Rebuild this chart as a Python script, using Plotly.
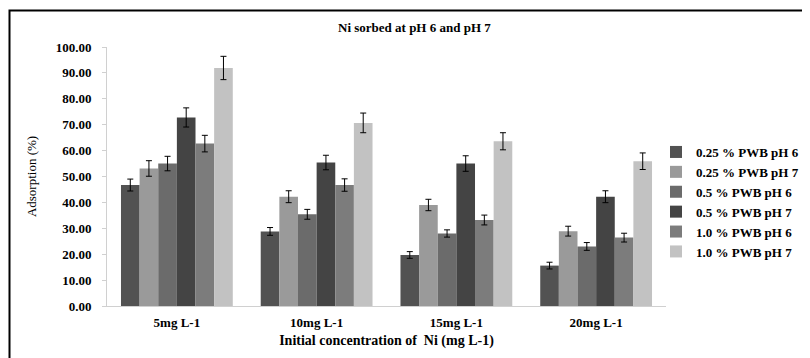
import plotly.graph_objects as go

categories = ["5mg L-1", "10mg L-1", "15mg L-1", "20mg L-1"]
series_names = ["0.25 % PWB pH 6", "0.25 % PWB pH 7", "0.5 % PWB pH 6",
                "0.5 % PWB pH 7", "1.0 % PWB pH 6", "1.0 % PWB pH 7"]
values = [
    [46.7, 28.8, 19.7, 15.6],
    [53.1, 42.2, 39.0, 28.9],
    [55.0, 35.4, 28.0, 23.0],
    [72.8, 55.4, 55.0, 42.2],
    [62.7, 46.7, 33.2, 26.4],
    [91.9, 70.7, 63.6, 55.9],
]
errors = [
    [2.3, 1.5, 1.3, 1.3],
    [3.0, 2.3, 2.2, 1.9],
    [2.8, 1.9, 1.4, 1.5],
    [3.7, 2.8, 3.0, 2.3],
    [3.2, 2.4, 1.9, 1.7],
    [4.5, 3.8, 3.3, 3.2],
]
colors = ["#525252", "#9a9a9a", "#6b6b6b", "#444444", "#7c7c7c", "#c2c2c2"]
y_ticks = [0, 10, 20, 30, 40, 50, 60, 70, 80, 90, 100]

FONT = "Liberation Serif"

fig = go.Figure()
for name, vals, errs, col in zip(series_names, values, errors, colors):
    fig.add_trace(go.Bar(
        x=categories, y=vals, name=name,
        marker=dict(color=col, line=dict(width=0)),
        error_y=dict(type="data", array=errs, visible=True,
                     color="black", thickness=1, width=3),
    ))

# page body has an 8px margin: work in window pixels and compensate
OFF = 8
WIN_W, WIN_H = 810, 358
W, H = WIN_W - OFF, WIN_H - OFF
PL, PR, PT, PB = 107, 666, 47, 306  # plot area in window pixels
L, T = PL - OFF, PT - OFF
R, B = W - (PR - OFF), H - (PB - OFF)
pw, ph = PR - PL, PB - PT


def px(x):
    return (x - PL) / pw


def py(y):
    return (PB - y) / ph


fig.update_layout(
    width=W, height=H,
    margin=dict(l=L, r=R, t=T, b=B, autoexpand=False, pad=0),
    paper_bgcolor="white", plot_bgcolor="white",
    barmode="group", bargap=0.2, bargroupgap=0,
    font=dict(family=FONT, color="black", size=12),
    showlegend=True,
    legend=dict(x=px(656), y=py(137), xanchor="left", yanchor="top",
                font=dict(family=FONT, size=13, color="black", weight="bold"),
                tracegroupgap=0, itemwidth=30, bgcolor="rgba(0,0,0,0)"),
    xaxis=dict(showline=True, linecolor="#d0d0d0", linewidth=1,
               ticks="", ticklabelstandoff=4,
               tickfont=dict(family=FONT, size=13, weight="bold"),
               title=dict(text="Initial concentration of  Ni (mg L-1)",
                          font=dict(family=FONT, size=14, weight="bold"),
                          standoff=6)),
    yaxis=dict(range=[0, 100], tickvals=y_ticks, tickformat=".2f",
               showgrid=False, zeroline=False, showline=True,
               linecolor="#d0d0d0", linewidth=1, ticks="outside",
               ticklen=4, tickcolor="#d0d0d0", ticklabelstandoff=8,
               tickfont=dict(family=FONT, size=13, weight="bold"),
               title=dict(text="Adsorption (%)",
                          font=dict(family=FONT, size=13), standoff=16)),
    annotations=[dict(text="<b>Ni sorbed at pH 6 and pH 7</b>",
                      xref="paper", yref="paper", x=px(415), y=py(28),
                      xanchor="center", yanchor="middle", showarrow=False,
                      font=dict(family=FONT, size=13))],
    shapes=[dict(type="rect", xref="paper", yref="paper",
                 x0=px(9.5), y0=py(WIN_H + 20), x1=px(WIN_W + 20), y1=py(10.5),
                 line=dict(color="black", width=2), layer="above")],
)

fig.write_html("out.html")
